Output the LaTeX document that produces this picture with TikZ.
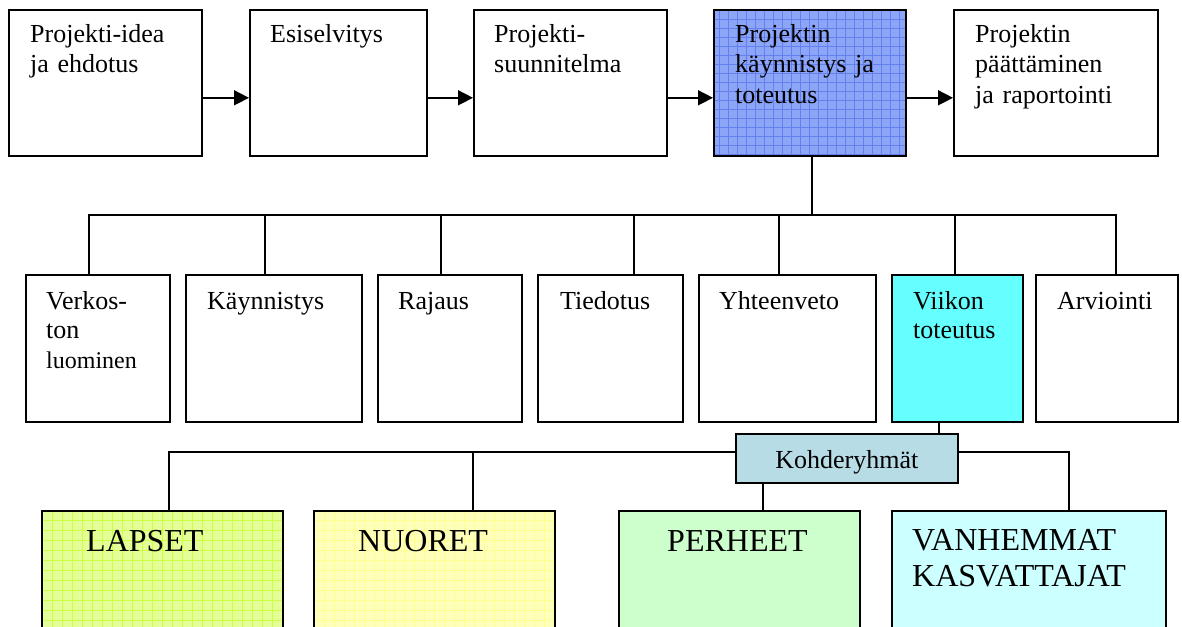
\documentclass[tikz,border=0pt]{standalone}
\usepackage{fontspec}
\setmainfont{Liberation Serif}
\usetikzlibrary{arrows.meta}
\definecolor{bluebase}{RGB}{140,165,246}
\definecolor{blueline}{RGB}{100,128,238}
\definecolor{greenbase}{RGB}{228,255,152}
\definecolor{greenline}{RGB}{204,255,70}
\definecolor{yelbase}{RGB}{255,255,188}
\definecolor{yelline}{RGB}{255,255,140}
\definecolor{perhcol}{RGB}{204,255,204}
\definecolor{vanhcol}{RGB}{204,255,255}
\definecolor{viikcol}{RGB}{102,255,255}
\definecolor{kohdcol}{RGB}{184,220,230}
\newcommand\ftop{\fontsize{26}{30}\selectfont}
\newcommand\frow{\fontsize{26}{29.5}\selectfont}
\newcommand\fbig{\fontsize{32}{36.5}\selectfont}
\tikzset{
  box/.style={draw, line width=1.6pt, inner sep=0pt, anchor=north west},
  txt/.style={anchor=base west, inner sep=0pt, align=left, text width=230pt},
  conn/.style={line width=1.6pt},
  arr/.style={conn, -{Triangle[length=15pt,width=15pt]}},
  gridfill/.style 2 args={path picture={\draw[#1, line width=0.9pt, step=#2]
     (path picture bounding box.south west) grid (path picture bounding box.north east);}}
}
\begin{document}
\begin{tikzpicture}[x=1pt,y=-1pt]
\useasboundingbox (0,0) rectangle (1182,626);
\clip (0,0) rectangle (1182,626);
\fill[white] (0,0) rectangle (1182,626);
% top row
\node[box, minimum width=193pt, minimum height=146pt] (b1) at (8,9) {};
\node[box, minimum width=177pt, minimum height=146pt] (b2) at (249,9) {};
\node[box, minimum width=193pt, minimum height=146pt] (b3) at (473,9) {};
\node[box, minimum width=192pt, minimum height=146pt, fill=bluebase, gridfill={blueline}{9pt}] (b4) at (713,9) {};
\node[box, minimum width=204pt, minimum height=146pt] (b5) at (953,9) {};
\node[txt, font=\ftop] (t1) at (30,43) {Projekti-idea\\ja ehdotus};
\node[txt, font=\ftop] (t2) at (270,43) {Esiselvitys};
\node[txt, font=\ftop] (t3) at (494,43) {Projekti-\\suunnitelma};
\node[txt, font=\ftop] (t4) at (735,43) {Projektin\\käynnistys ja\\toteutus};
\node[txt, font=\ftop] (t5) at (975,43) {Projektin\\päättäminen\\ja raportointi};
\draw[arr] ([yshift=-15pt]b1.east) -- ([yshift=-15pt]b2.west);
\draw[arr] ([yshift=-15pt]b2.east) -- ([yshift=-15pt]b3.west);
\draw[arr] ([yshift=-15pt]b3.east) -- ([yshift=-15pt]b4.west);
\draw[arr] ([yshift=-15pt]b4.east) -- ([yshift=-15pt]b5.west);
% second row
\node[box, minimum width=144pt, minimum height=147pt] (r1) at (25,274) {};
\node[box, minimum width=176pt, minimum height=147pt] (r2) at (185,274) {};
\node[box, minimum width=144pt, minimum height=147pt] (r3) at (377,274) {};
\node[box, minimum width=145pt, minimum height=147pt] (r4) at (537,274) {};
\node[box, minimum width=177pt, minimum height=147pt] (r5) at (698,274) {};
\node[box, minimum width=131pt, minimum height=147pt, fill=viikcol] (r6) at (891,274) {};
\node[box, minimum width=142pt, minimum height=147pt] (r7) at (1035,274) {};
\node[txt, font=\frow] (s1) at (46,309) {Verkos-\\ton\\{\fontsize{24}{29.5}\selectfont luominen}};
\node[txt, font=\frow] (s2) at (207,309) {Käynnistys};
\node[txt, font=\frow] (s3) at (398,309) {Rajaus};
\node[txt, font=\frow] (s4) at (560,309) {Tiedotus};
\node[txt, font=\frow] (s5) at (719,309) {Yhteenveto};
\node[txt, font=\frow] (s6) at (913,309) {Viikon\\toteutus};
\node[txt, font=\frow] (s7) at (1057,309) {Arviointi};
% bus to second row
\coordinate (j) at (812,215);
\coordinate (d1) at (89,215);
\coordinate (d2) at (265,215);
\coordinate (d3) at (441,215);
\coordinate (d4) at (634,215);
\coordinate (d5) at (779,215);
\coordinate (d6) at (955,215);
\coordinate (d7) at (1116,215);
\draw[conn] (b4.south -| j) -- (j);
\draw[conn] (d1 |- r1.north) -- (d1) -- (d7) -- (d7 |- r7.north);
\foreach \i in {2,...,6} {\draw[conn] (d\i) -- (d\i |- r\i.north);}
% Kohderyhmat
\node[box, minimum width=222pt, minimum height=49pt, fill=kohdcol, font=\frow, text height=21pt, text depth=0pt] (k) at (735,433) {Kohderyhmät};
% bottom row
\node[box, minimum width=241pt, minimum height=140pt, fill=greenbase, gridfill={greenline}{10pt}] (l1) at (41,510) {};
\node[box, minimum width=241pt, minimum height=140pt, fill=yelbase, gridfill={yelline}{10pt}] (l2) at (313,510) {};
\node[box, minimum width=241pt, minimum height=140pt, fill=perhcol] (l3) at (618,510) {};
\node[box, minimum width=274pt, minimum height=140pt, fill=vanhcol] (l4) at (891,510) {};
\node[txt, font=\fbig] (u1) at (86,551) {LAPSET};
\node[txt, font=\fbig] (u2) at (358,551) {NUORET};
\node[txt, font=\fbig] (u3) at (667,551) {PERHEET};
\node[txt, font=\fbig] (u4) at (912,550) {VANHEMMAT\\KASVATTAJAT};
% connectors third level
\coordinate (v) at (939,0);
\coordinate (e1) at (169,452);
\coordinate (e2) at (473,452);
\coordinate (e3) at (763,0);
\coordinate (e4) at (1069,452);
\draw[conn] (v |- r6.south) -- (v |- k.north);
\draw[conn] (k.west |- e1) -- (e1) -- (e1 |- l1.north);
\draw[conn] (e2) -- (e2 |- l2.north);
\draw[conn] (k.east |- e4) -- (e4) -- (e4 |- l4.north);
\draw[conn] (e3 |- k.south) -- (e3 |- l3.north);
\end{tikzpicture}
\end{document}
